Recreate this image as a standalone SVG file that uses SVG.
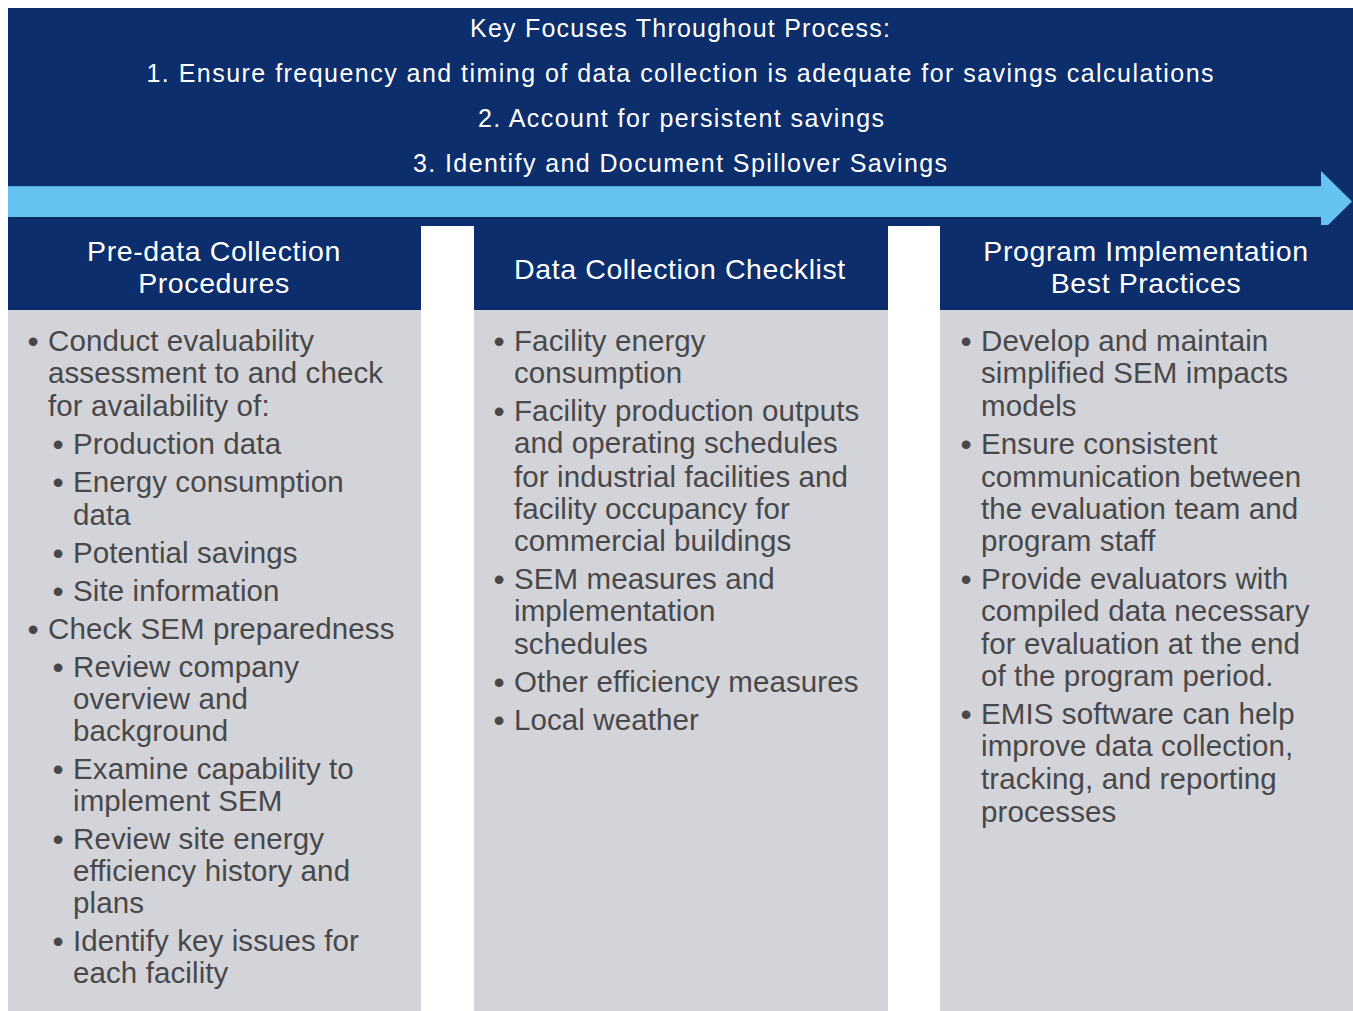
<svg xmlns="http://www.w3.org/2000/svg" width="1353" height="1011" viewBox="0 0 1353 1011">
  <style>
    .navy { fill: #0c2e6c; }
    .panel { fill: #d3d4d9; }
    .banner { font-family: "Liberation Sans", Arial, sans-serif; font-size: 25px; fill: #ffffff; text-anchor: middle; }
    .head { font-family: "Liberation Sans", Arial, sans-serif; font-size: 28.5px; fill: #ffffff; text-anchor: middle; letter-spacing: 0.6px; }
    .body { font-family: "Liberation Sans", Arial, sans-serif; font-size: 29.5px; fill: #48484a; letter-spacing: 0.1px; }
    .dot { font-family: "Liberation Sans", Arial, sans-serif; font-size: 32px; fill: #48484a; text-anchor: middle; }
  </style>
  <rect width="1353" height="1011" fill="#ffffff"/>

  <!-- top banner with the key focuses -->
  <g id="key-focuses">
    <rect class="navy" x="8" y="8" width="1345" height="218"/>
    <text class="banner" x="680" y="37" textLength="420" lengthAdjust="spacing">Key Focuses Throughout Process:</text>
    <text class="banner" x="680" y="82" textLength="1067" lengthAdjust="spacing">1. Ensure frequency and timing of data collection is adequate for savings calculations</text>
    <text class="banner" x="681" y="127" textLength="406" lengthAdjust="spacing">2. Account for persistent savings</text>
    <text class="banner" x="680" y="172" textLength="534" lengthAdjust="spacing">3. Identify and Document Spillover Savings</text>
  </g>

  <!-- process timeline arrow -->
  <g id="connectors">
    <path d="M8,188 H1321 V172 L1352,202 L1321,233 V219 H8 Z" fill="#0a2758" opacity="0.55"/>
    <path d="M8,186 H1321 V171 L1352,201.5 L1321,232 V217 H8 Z" fill="#66c2f0"/>
    <line x1="8" y1="186.5" x2="1321" y2="186.5" stroke="#4aa6dc" stroke-width="1"/>
  </g>

  <!-- column 1 -->
  <g id="pre-data-collection">
    <rect class="navy" x="8" y="225" width="413" height="86"/>
    <rect class="panel" x="8" y="310" width="413" height="701"/>
    <text class="head" x="214" y="261">Pre-data Collection</text>
    <text class="head" x="214" y="293">Procedures</text>
    <text class="dot" x="33" y="352">•</text>
    <text class="body" x="48" y="351">Conduct evaluability</text>
    <text class="body" x="48" y="383">assessment to and check</text>
    <text class="body" x="48" y="416">for availability of:</text>
    <text class="dot" x="58" y="455">•</text>
    <text class="body" x="73" y="454">Production data</text>
    <text class="dot" x="58" y="493">•</text>
    <text class="body" x="73" y="492">Energy consumption</text>
    <text class="body" x="73" y="525">data</text>
    <text class="dot" x="58" y="564">•</text>
    <text class="body" x="73" y="563">Potential savings</text>
    <text class="dot" x="58" y="602">•</text>
    <text class="body" x="73" y="601">Site information</text>
    <text class="dot" x="33" y="640">•</text>
    <text class="body" x="48" y="639">Check SEM preparedness</text>
    <text class="dot" x="58" y="678">•</text>
    <text class="body" x="73" y="677">Review company</text>
    <text class="body" x="73" y="709">overview and</text>
    <text class="body" x="73" y="741">background</text>
    <text class="dot" x="58" y="780">•</text>
    <text class="body" x="73" y="779">Examine capability to</text>
    <text class="body" x="73" y="811">implement SEM</text>
    <text class="dot" x="58" y="850">•</text>
    <text class="body" x="73" y="849">Review site energy</text>
    <text class="body" x="73" y="881">efficiency history and</text>
    <text class="body" x="73" y="913">plans</text>
    <text class="dot" x="58" y="952">•</text>
    <text class="body" x="73" y="951">Identify key issues for</text>
    <text class="body" x="73" y="983">each facility</text>
  </g>

  <!-- column 2 -->
  <g id="data-collection-checklist">
    <rect class="navy" x="474" y="225" width="414" height="86"/>
    <rect class="panel" x="474" y="310" width="414" height="701"/>
    <text class="head" x="680" y="279">Data Collection Checklist</text>
    <text class="dot" x="499" y="352">•</text>
    <text class="body" x="514" y="351">Facility energy</text>
    <text class="body" x="514" y="383">consumption</text>
    <text class="dot" x="499" y="422">•</text>
    <text class="body" x="514" y="421">Facility production outputs</text>
    <text class="body" x="514" y="453">and operating schedules</text>
    <text class="body" x="514" y="487">for industrial facilities and</text>
    <text class="body" x="514" y="519">facility occupancy for</text>
    <text class="body" x="514" y="551">commercial buildings</text>
    <text class="dot" x="499" y="590">•</text>
    <text class="body" x="514" y="589">SEM measures and</text>
    <text class="body" x="514" y="621">implementation</text>
    <text class="body" x="514" y="654">schedules</text>
    <text class="dot" x="499" y="693">•</text>
    <text class="body" x="514" y="692">Other efficiency measures</text>
    <text class="dot" x="499" y="731">•</text>
    <text class="body" x="514" y="730">Local weather</text>
  </g>

  <!-- column 3 -->
  <g id="program-implementation">
    <rect class="navy" x="940" y="225" width="413" height="86"/>
    <rect class="panel" x="940" y="310" width="413" height="701"/>
    <text class="head" x="1146" y="261">Program Implementation</text>
    <text class="head" x="1146" y="293">Best Practices</text>
    <text class="dot" x="966" y="352">•</text>
    <text class="body" x="981" y="351">Develop and maintain</text>
    <text class="body" x="981" y="383">simplified SEM impacts</text>
    <text class="body" x="981" y="416">models</text>
    <text class="dot" x="966" y="455">•</text>
    <text class="body" x="981" y="454">Ensure consistent</text>
    <text class="body" x="981" y="487">communication between</text>
    <text class="body" x="981" y="519">the evaluation team and</text>
    <text class="body" x="981" y="551">program staff</text>
    <text class="dot" x="966" y="590">•</text>
    <text class="body" x="981" y="589">Provide evaluators with</text>
    <text class="body" x="981" y="621">compiled data necessary</text>
    <text class="body" x="981" y="654">for evaluation at the end</text>
    <text class="body" x="981" y="686">of the program period.</text>
    <text class="dot" x="966" y="725">•</text>
    <text class="body" x="981" y="724">EMIS software can help</text>
    <text class="body" x="981" y="756">improve data collection,</text>
    <text class="body" x="981" y="789">tracking, and reporting</text>
    <text class="body" x="981" y="822">processes</text>
  </g>
</svg>
